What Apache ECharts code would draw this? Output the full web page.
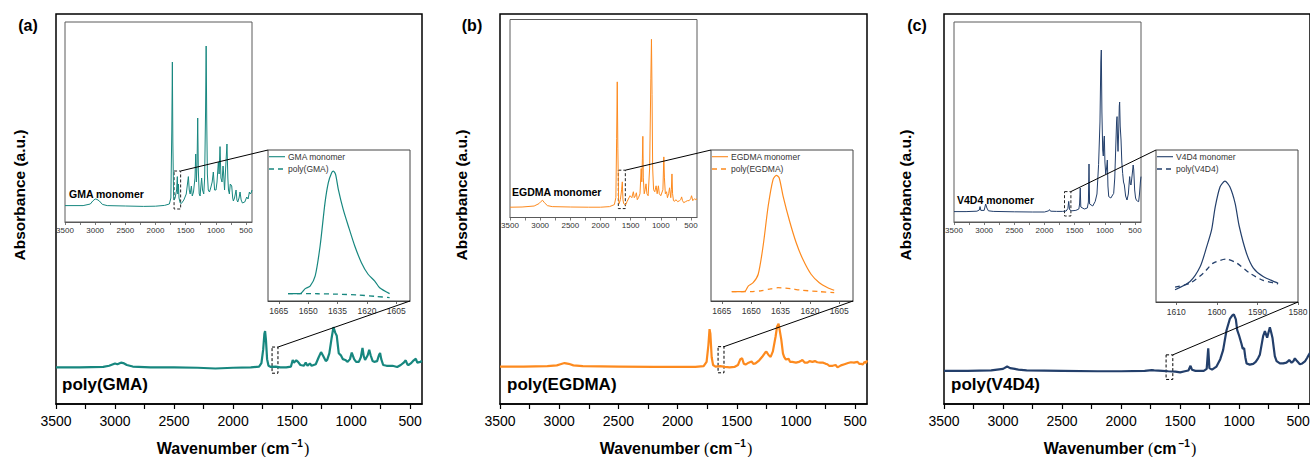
<!DOCTYPE html>
<html><head><meta charset="utf-8">
<script src="https://cdn.jsdelivr.net/npm/echarts@6/dist/echarts.min.js"></script>
<style>html,body{margin:0;padding:0;background:#fff}#c{width:1310px;height:457px}</style>
</head><body><div id="c"></div>
<script>
// ---------------- DATA ----------------
const mainTicks = [500,750,1000,1250,1500,1750,2000,2250,2500,2750,3000,3250,3500];
const mainLabels = [500,1000,1500,2000,2500,3000,3500];
const zoomTicksAB = [1665,1650,1635,1620,1605];
const zoomTicksC = [1610,1600,1590,1580];
const panelLetters = ['(a)','(b)','(c)'];
const polyNames = ['poly(GMA)','poly(EGDMA)','poly(V4D4)'];
const monoNames = ['GMA monomer','EGDMA monomer','V4D4 monomer'];

const gmaPoly = [[3500,9.4],[3300,9.4],[3100,9.5],[3050,9.8],[3000,10.4],[2980,10.2],[2950,10.6],[2930,10.5],[2900,10],[2850,9.6],[2700,9.4],[2500,9.4],[2300,9.3],[2150,9.1],[2000,9.3],[1850,9.4],[1780,9.6],[1760,10.5],[1745,14],[1735,18],[1729,18.7],[1722,16.5],[1712,11.5],[1700,9.8],[1680,9.5],[1640,9.6],[1600,9.4],[1550,9.4],[1510,9.6],[1495,11.3],[1485,10.6],[1465,11.2],[1450,10.8],[1430,10],[1400,9.8],[1385,10.6],[1370,9.8],[1350,10.4],[1335,9.8],[1300,10.2],[1275,12],[1255,13.3],[1240,12.5],[1215,11],[1203,11.3],[1185,13],[1165,17],[1150,19.7],[1135,18.3],[1122,17.5],[1105,13],[1085,12.4],[1070,11.5],[1050,11.3],[1030,10.8],[1010,11.5],[995,13.2],[975,11.5],[958,10.8],[935,10.8],[918,12],[904,14.4],[893,12.2],[882,11.3],[860,12.5],[847,13.9],[835,12.5],[818,11],[805,10.8],[780,11],[765,12.5],[755,13.1],[745,11.5],[729,10],[700,9.8],[650,9.8],[610,9.5],[580,10],[555,10.6],[538,11.2],[525,10.2],[515,10],[495,10.4],[470,11.2],[452,11.6],[440,10.6],[415,10.8],[400,11]];
const gmaMono = [[3500,8.2],[3200,8.2],[3080,9],[3040,10.5],[3000,11.5],[2970,11.3],[2930,10.5],[2880,8.8],[2800,8.2],[2500,8],[2200,7.8],[2000,7.9],[1850,8.3],[1770,9],[1745,12],[1730,45],[1720,80],[1712,40],[1700,13],[1690,11],[1675,12],[1650,16],[1638,22.7],[1630,14],[1620,19],[1610,12],[1590,9.5],[1570,9.3],[1530,11],[1490,14],[1455,22.7],[1440,16],[1425,14],[1405,18],[1390,13],[1370,15],[1345,22],[1333,34],[1322,20],[1310,30],[1300,52],[1290,26],[1275,14],[1260,13],[1250,17],[1235,22],[1220,16],[1200,14],[1185,22],[1170,55],[1160,88],[1150,50],[1140,24],[1125,16],[1105,15],[1085,17],[1060,20],[1041,25],[1020,16],[997,16],[980,20],[958,30],[945,24],[930,37.7],[915,22],[897,20],[880,28],[870,24],[855,16],[842,24],[815,39],[800,22],[790,16],[775,14],[760,19],[736,18],[720,12],[709,10.5],[690,12],[664,16],[650,11],[636,10],[615,12],[598,15],[580,11],[559,9.5],[520,10],[487,12.5],[465,11.5],[443,15],[430,14],[415,14.5],[400,16]];
const gmaZoomMono = [[1660.3,4.9],[1654,4.9],[1651.5,8.2],[1649,9.9],[1646.4,16.6],[1643.9,36.4],[1641.4,65],[1639.7,78.4],[1638,85],[1637.1,86],[1636,83.9],[1634.6,74],[1632.1,60.7],[1629.5,49.7],[1626.2,36.4],[1622.8,25.4],[1619.4,17.7],[1616,13.2],[1613.5,8.8],[1608.4,4.9]];
const gmaZoomPoly = [[1660.3,4.9],[1645,4.8],[1635,4.5],[1625,4],[1615,3],[1608.4,2.2]];

const egdmaPoly = [[3500,9.6],[3300,9.6],[3100,9.7],[3020,9.9],[2990,10.2],[2955,10.5],[2920,10.3],[2880,9.9],[2800,9.7],[2500,9.6],[2200,9.5],[2000,9.5],[1850,9.5],[1780,9.7],[1755,10.8],[1740,15],[1730,19.2],[1723,18],[1712,12],[1700,10],[1680,9.6],[1640,9.7],[1600,9.5],[1560,9.4],[1520,9.5],[1490,10],[1470,11.5],[1455,11.7],[1440,10.3],[1426,10.1],[1400,10.6],[1375,10.9],[1360,10.3],[1342,10.4],[1310,11.2],[1285,12.1],[1260,13.2],[1250,13.4],[1230,12.5],[1214,12.1],[1195,13.5],[1172,17.3],[1160,19.8],[1147,20.6],[1138,19],[1124,16.5],[1110,13],[1100,12.1],[1085,11.4],[1062,11.6],[1050,10.8],[1031,10.8],[1000,10.6],[975,10.8],[960,11],[946,11.3],[925,10.6],[903,10.6],[885,11],[861,10.8],[840,11],[820,10.7],[795,10.6],[770,10.6],[748,10.3],[735,10.2],[720,9.8],[690,9.8],[665,10],[649,9.4],[620,9.9],[590,10.2],[560,10.5],[536,10.7],[510,10.6],[480,10.8],[466,10.3],[450,10.3],[437,10.1],[420,10.8],[409,10.5],[400,11.2]];
const egdmaMono = [[3500,5.2],[3300,5.3],[3100,5.8],[3020,7],[2990,8],[2960,8.7],[2930,7.5],[2880,6],[2800,5.5],[2500,5.3],[2200,5.2],[2000,5.2],[1850,5.5],[1770,6.5],[1745,10],[1732,40],[1722,68.5],[1712,35],[1700,9],[1690,7],[1670,9],[1650,14],[1638,18],[1628,9],[1615,7],[1600,6.5],[1580,6.5],[1560,8],[1510,11],[1480,10],[1455,13],[1440,10],[1420,11],[1405,12.5],[1390,9],[1370,10],[1345,12],[1325,24.7],[1315,18],[1305,30],[1298,41],[1290,20],[1275,12],[1260,14],[1245,17],[1230,12],[1210,11],[1185,25],[1165,70],[1155,90],[1145,62],[1135,25],[1120,14],[1100,13],[1078,16],[1060,12],[1040,16],[1025,12],[1000,11],[965,14],[950,30.6],[940,20],[925,12],[905,13],[890,10],[870,12],[855,15],[835,10],[825,14],[815,22],[805,12],[790,8.5],[770,8.2],[750,9],[720,8],[690,8.5],[670,9],[655,10.4],[640,8.5],[620,7.5],[590,8],[560,8.5],[530,8.5],[505,9.5],[490,11],[470,8.5],[440,9.5],[420,9],[400,9.5]];
const egdmaZoomMono = [[1659.9,6.2],[1653.2,6.4],[1651.5,9.9],[1649,12.1],[1646.4,17.7],[1643.9,36.4],[1641.3,62.9],[1638.8,80.6],[1637.1,83.2],[1635.7,81.6],[1633.7,69.5],[1630.4,53],[1627,38.6],[1623.6,27.6],[1619.4,17.7],[1615.2,12.1],[1610.9,8.8],[1607.6,7.1]];
const egdmaZoomPoly = [[1659.9,6.2],[1650,6.2],[1645,6.8],[1640,8],[1636.3,8.8],[1630,8.2],[1625.3,7.3],[1615,6.2],[1607.6,5.5]];

const v4d4Poly = [[3500,8.5],[3300,8.5],[3100,8.6],[3050,8.8],[3000,9],[2965,9.6],[2940,9.2],[2900,9],[2870,8.8],[2800,8.6],[2500,8.5],[2200,8.4],[2000,8.4],[1800,8.5],[1740,8.7],[1720,8.6],[1650,8.5],[1600,8.4],[1540,8.3],[1500,8.1],[1460,8.4],[1430,8.6],[1412,9.8],[1400,8.8],[1370,8.5],[1300,8.5],[1275,9],[1262,14.3],[1252,9.2],[1230,8.8],[1192,9.6],[1160,11.5],[1136,13.8],[1107,18.9],[1079,21.8],[1058,22.7],[1045,23],[1028,21.7],[1017,19],[1000,17.5],[981,15.5],[970,14.2],[958,14.3],[948,12],[937,10.4],[910,10.1],[881,10.3],[860,10.8],[840,11.7],[825,12.6],[797,17.4],[782,18.7],[763,17],[740,19.7],[730,18.5],[718,17],[698,12.3],[683,11],[655,10.4],[627,10.4],[600,10.6],[585,11],[576,11.3],[556,10.6],[540,11],[528,11.7],[510,11],[486,10.2],[465,10.4],[443,10.9],[425,11.8],[410,12.6],[400,13.1]];
const v4d4Mono = [[3500,5.2],[3300,5.2],[3120,5.4],[3080,6],[3068,7.7],[3055,5.8],[3000,5.8],[2975,9],[2955,7],[2930,5.6],[2850,5.3],[2500,5.1],[2200,5],[2000,5],[1930,5.6],[1917,6.2],[1900,5.4],[1800,5.3],[1700,5.3],[1640,5.5],[1612,6.8],[1598,10.3],[1585,6.2],[1550,5.6],[1480,5.8],[1430,6.5],[1418,9],[1407,17],[1398,7.5],[1340,6.5],[1290,7],[1272,10],[1262,29],[1252,9],[1200,8],[1159,10.3],[1130,14],[1103,28.7],[1080,50],[1066,80],[1058,86],[1048,55],[1035,36],[1025,33],[1017,40],[1008,43],[998,30],[985,24],[970,27],[958,31],[948,18],[935,12.7],[900,12],[870,13.5],[853,14.3],[835,22],[820,36],[805,50],[797,52.7],[788,40],[781,35.3],[770,45],[760,58],[754,60],[745,48],[731,41],[718,30],[704,24.3],[690,20],[676,18.5],[655,13],[632,11],[610,14],[595,20],[588,22.7],[577,19],[565,18.5],[545,24],[530,28.5],[520,26],[505,16],[490,12],[477,11],[455,10.3],[439,10.2],[425,14],[410,20],[400,22.7]];
const v4d4ZoomMono = [[1610.3,8.1],[1606.6,13.5],[1604.1,23.3],[1602.5,36.4],[1601.3,47.4],[1600.4,62.6],[1599.2,75.8],[1598,79.5],[1596.8,75.8],[1595.5,64.9],[1594.5,50],[1592.7,32.1],[1591,22.3],[1588.6,16.8],[1584.9,12.4]];
const v4d4ZoomPoly = [[1610.3,9.8],[1606.6,12.4],[1603.3,19],[1600.9,25.6],[1597.6,28.2],[1595.1,25.6],[1591.9,19],[1588.6,14.2],[1584.9,12]];

// ---------------- LAYOUT / STYLE ----------------
const FONT = '"Liberation Sans", Arial, sans-serif';
const panels = [
  {color:'#17877f', poly:gmaPoly, mono:gmaMono, zMono:gmaZoomMono, zPoly:gmaZoomPoly,
   main:{left:56,top:14,width:366,height:390}, ins:{left:65,top:22,width:187,height:200}, zm:{left:268,top:150,width:142,height:151},
   zRange:[1598,1670.5], zTicks:zoomTicksAB, mainBox:[1670,1620,14.6,7.9], insBox:[1692,1583,25.5,6.5],
   letter:[28,25], ylab:[19,195], xlab:[233,447], polyLab:[62,384], monoLab:[69,194]},
  {color:'#fd8a1e', poly:egdmaPoly, mono:egdmaMono, zMono:egdmaZoomMono, zPoly:egdmaZoomPoly,
   main:{left:500,top:14,width:367,height:390}, ins:{left:510,top:19.5,width:187,height:198}, zm:{left:711,top:150,width:142,height:151},
   zRange:[1598,1670.5], zTicks:zoomTicksAB, mainBox:[1658,1608,14.7,8.0], insBox:[1704,1588,23.9,4.5],
   letter:[472,25], ylab:[461,195], xlab:[676,447], polyLab:[507,384], monoLab:[512,192]},
  {color:'#233f6b', poly:v4d4Poly, mono:v4d4Mono, zMono:v4d4ZoomMono, zPoly:v4d4ZoomPoly,
   main:{left:944,top:14,width:366,height:390}, ins:{left:954,top:22,width:187,height:200}, zm:{left:1156,top:150,width:142,height:152},
   zRange:[1580,1615], zTicks:zoomTicksC, mainBox:[1619,1562,12.6,6.3], insBox:[1668,1562,15.2,3],
   letter:[917,25], ylab:[905,195], xlab:[1120,447], polyLab:[951,384], monoLab:[957,200]}
];

const chart = echarts.init(document.getElementById('c'), null, {renderer:'svg'});
const grid=[], xAxis=[], yAxis=[], series=[];
const plain = v => String(v);

panels.forEach((p,i)=>{
  const gbase = {show:true, containLabel:false, outerBoundsMode:'none'};
  grid.push(Object.assign({}, gbase, {borderColor:'#000', borderWidth:1.5, backgroundColor:'transparent'}, p.main));
  grid.push(Object.assign({}, gbase, {borderColor:'#5a5a5a', borderWidth:1, backgroundColor:'#fff'}, p.ins));
  grid.push(Object.assign({}, gbase, {borderColor:'#444', borderWidth:1, backgroundColor:'#fff'}, p.zm));
  const gi = 3*i;
  xAxis.push({gridIndex:gi, type:'value', inverse:true, min:400, max:3500,
    axisLine:{show:true, onZero:false, lineStyle:{color:'#000', width:1.5}},
    axisTick:{show:true, inside:false, length:5, customValues:mainTicks, lineStyle:{color:'#000', width:1.2}},
    axisLabel:{show:true, margin:10, customValues:mainLabels, formatter:plain, fontSize:14, color:'#000', fontFamily:FONT},
    splitLine:{show:false}});
  xAxis.push({gridIndex:gi+1, type:'value', inverse:true, min:400, max:3500,
    axisLine:{show:true, onZero:false, lineStyle:{color:'#5a5a5a', width:1}},
    axisTick:{show:true, inside:false, length:3, customValues:mainTicks, lineStyle:{color:'#5a5a5a', width:0.8}},
    axisLabel:{show:true, margin:4, customValues:mainLabels, formatter:plain, fontSize:8, color:'#333', fontFamily:FONT},
    splitLine:{show:false}});
  xAxis.push({gridIndex:gi+2, type:'value', inverse:true, min:p.zRange[0], max:p.zRange[1],
    axisLine:{show:true, onZero:false, lineStyle:{color:'#444', width:1}},
    axisTick:{show:true, inside:false, length:3, customValues:p.zTicks, lineStyle:{color:'#444', width:0.8}},
    axisLabel:{show:true, margin:5, customValues:p.zTicks, formatter:plain, fontSize:8.5, color:'#333', fontFamily:FONT},
    splitLine:{show:false}});
  for (let k=0;k<3;k++) yAxis.push({gridIndex:gi+k, type:'value', min:0, max:100, show:false, splitLine:{show:false}});

  const dash = {color:'rgba(0,0,0,0)', borderColor:'#000', borderWidth:1, borderType:[3,2]};
  series.push({name:polyNames[i]+' spectrum', type:'line', xAxisIndex:gi, yAxisIndex:gi, data:p.poly,
    symbol:'none', showSymbol:false, lineStyle:{color:p.color, width:2.2}, itemStyle:{color:p.color}, z:3,
    markArea:{silent:true, itemStyle:dash, label:{show:false},
      data:[[{xAxis:p.mainBox[0], yAxis:p.mainBox[2]},{xAxis:p.mainBox[1], yAxis:p.mainBox[3]}]]}});
  series.push({name:monoNames[i]+' spectrum', type:'line', xAxisIndex:gi+1, yAxisIndex:gi+1, data:p.mono,
    symbol:'none', showSymbol:false, lineStyle:{color:p.color, width:1}, itemStyle:{color:p.color}, z:3,
    markArea:{silent:true, itemStyle:Object.assign({}, dash, {borderColor:'#222'}), label:{show:false},
      data:[[{xAxis:p.insBox[0], yAxis:p.insBox[2]},{xAxis:p.insBox[1], yAxis:p.insBox[3]}]]}});
  series.push({name:monoNames[i], type:'line', xAxisIndex:gi+2, yAxisIndex:gi+2, data:p.zMono, smooth:0.25,
    symbol:'none', showSymbol:false, lineStyle:{color:p.color, width:1.2}, itemStyle:{color:p.color}, z:3});
  series.push({name:polyNames[i], type:'line', xAxisIndex:gi+2, yAxisIndex:gi+2, data:p.zPoly, smooth:0.25,
    symbol:'none', showSymbol:false, lineStyle:{color:p.color, width:1.3, type:[5,4]}, itemStyle:{color:p.color}, z:3});
});

chart.setOption({animation:false, backgroundColor:'#fff', grid, xAxis, yAxis, series});

// annotations: texts, legends and zoom connector lines
const els = [];
const px = (idx, pt) => chart.convertToPixel({xAxisIndex:idx, yAxisIndex:idx}, pt);
panels.forEach((p,i)=>{
  const gi = 3*i;
  els.push({type:'text', x:p.letter[0], y:p.letter[1], style:{text:panelLetters[i], fontSize:16, fontWeight:'bold', fontFamily:FONT, fill:'#000', align:'center', verticalAlign:'middle'}});
  els.push({type:'text', x:p.ylab[0], y:p.ylab[1], rotation:Math.PI/2, style:{text:'Absorbance (a.u.)', fontSize:15.5, fontWeight:'bold', fontFamily:FONT, fill:'#000', align:'center', verticalAlign:'middle'}});
  els.push({type:'text', x:p.xlab[0], y:p.xlab[1], style:{text:'{b|Wavenumber }{p|(}{b|cm}{s|−1}{p|)}', align:'center', verticalAlign:'middle',
    rich:{b:{fontSize:16, fontWeight:'bold', fontFamily:FONT, fill:'#000', lineHeight:18, verticalAlign:'bottom'},
          p:{fontSize:16, fontFamily:'"Liberation Serif", serif', fill:'#000', lineHeight:18, verticalAlign:'bottom'},
          s:{fontSize:10, fontWeight:'bold', fontFamily:FONT, fill:'#000', lineHeight:10, verticalAlign:'top', padding:[0,1,0,2]}}}});
  els.push({type:'text', x:p.polyLab[0], y:p.polyLab[1], style:{text:polyNames[i], fontSize:17, fontWeight:'bold', fontFamily:FONT, fill:'#000', align:'left', verticalAlign:'middle'}});
  els.push({type:'text', x:p.monoLab[0], y:p.monoLab[1], style:{text:monoNames[i], fontSize:10.5, fontWeight:'bold', fontFamily:FONT, fill:'#000', align:'left', verticalAlign:'middle'}, z:10});
  // legend inside zoom inset
  const lx = p.zm.left + 1, r1 = p.zm.top + 6.7, r2 = p.zm.top + 19;
  els.push({type:'line', shape:{x1:lx, y1:r1, x2:lx+16, y2:r1}, style:{stroke:p.color, lineWidth:1.1}, z:10});
  els.push({type:'line', shape:{x1:lx, y1:r2, x2:lx+16, y2:r2}, style:{stroke:p.color, lineWidth:1.3, lineDash:[5,4]}, z:10});
  els.push({type:'text', x:lx+19, y:r1, style:{text:monoNames[i], fontSize:8.5, fontFamily:FONT, fill:'#333', align:'left', verticalAlign:'middle'}, z:10});
  els.push({type:'text', x:lx+19, y:r2, style:{text:polyNames[i], fontSize:8.5, fontFamily:FONT, fill:'#333', align:'left', verticalAlign:'middle'}, z:10});
  // connector lines
  const a1 = px(gi+1, [p.insBox[1], p.insBox[2]]);
  const a2 = px(gi+2, [p.zRange[1], 100]);
  const b1 = px(gi, [p.mainBox[1], p.mainBox[2]]);
  const b2 = px(gi+2, [p.zRange[0], 0]);
  els.push({type:'line', shape:{x1:a1[0], y1:a1[1], x2:a2[0], y2:a2[1]}, style:{stroke:'#000', lineWidth:1}, z:10});
  els.push({type:'line', shape:{x1:b1[0], y1:b1[1], x2:b2[0], y2:b2[1]}, style:{stroke:'#000', lineWidth:1}, z:10});
});
chart.setOption({graphic:{elements:els}});
</script>
</body></html>
